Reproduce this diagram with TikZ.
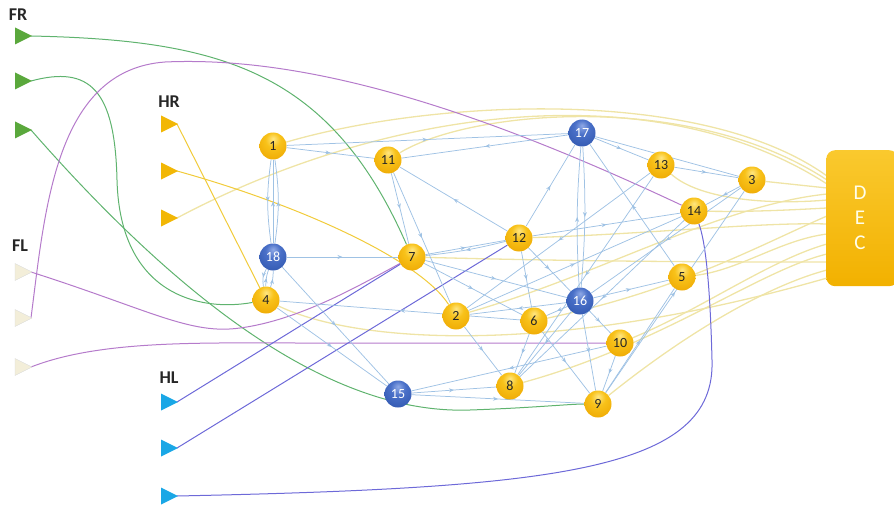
\documentclass[tikz,border=0pt]{standalone}
\usepackage{fontspec}
\setmainfont{Carlito}
\usetikzlibrary{arrows.meta,decorations.markings,shadings}
\pgfdeclarelayer{bg}
\pgfsetlayers{bg,main}
\definecolor{edg}{HTML}{9FC2E4}
\definecolor{grn}{HTML}{5FB36E}
\definecolor{pur}{HTML}{B57BCB}
\definecolor{vio}{HTML}{6D69D8}
\definecolor{pyl}{HTML}{EFE4A6}
\definecolor{hyl}{HTML}{F1CB3A}
\definecolor{trg}{HTML}{5AA83C}
\definecolor{trc}{HTML}{F3EED9}
\definecolor{trh}{HTML}{F2B705}
\definecolor{trl}{HTML}{1AA7E6}
\definecolor{decA}{HTML}{FAC92E}
\definecolor{decB}{HTML}{F2B100}
\definecolor{gA}{HTML}{FFE680}
\definecolor{gB}{HTML}{F8C21A}
\definecolor{gC}{HTML}{EDA600}
\definecolor{gD}{HTML}{C98500}
\definecolor{bA}{HTML}{8FA9E6}
\definecolor{bB}{HTML}{4A70C8}
\definecolor{bC}{HTML}{2F56AE}
\definecolor{bD}{HTML}{1E3C85}
\pgfdeclareradialshading{goldball}{\pgfpoint{0bp}{14bp}}{color(0bp)=(gA); color(14bp)=(gB); color(38bp)=(gC); color(56bp)=(gD); color(70bp)=(gD)}
\pgfdeclareradialshading{blueball}{\pgfpoint{0bp}{14bp}}{color(0bp)=(bA); color(14bp)=(bB); color(38bp)=(bC); color(56bp)=(bD); color(70bp)=(bD)}
\tikzset{
  yn/.style={circle, minimum size=27pt, inner sep=0pt, shading=goldball, text=black!85, font=\fontsize{14}{14}\selectfont},
  bn/.style={circle, minimum size=27pt, inner sep=0pt, shading=blueball, text=white, font=\fontsize{14}{14}\selectfont},
  ed/.style={edg, line width=0.75pt, postaction={decorate}, decoration={markings, mark=at position 0.5 with {\arrow{Stealth[length=5pt,width=4pt]}}}},
  dl/.style={pyl, line width=1.3pt},
  hl/.style={hyl, line width=1pt},
  gl/.style={grn, line width=1pt},
  pl/.style={pur, line width=1pt},
  vl/.style={vio, line width=1pt},
  lab/.style={font=\bfseries\fontsize{18}{18}\selectfont, text=black!85},
  dectxt/.style={text=white!92!yellow, font=\fontsize{21}{21}\selectfont},
}
\begin{document}
\begin{tikzpicture}[x=1pt,y=-1pt]
\useasboundingbox (0,0) rectangle (894,508);
% input triangles
\foreach \n/\y/\c in {fr1/36/trg, fr2/81/trg, fr3/130/trg} {
  \fill[\c] (15,\y-8.5) -- (32,\y) -- (15,\y+8.5) -- cycle;
  \coordinate (\n) at (31,\y);
}
\foreach \n/\y in {fl1/272, fl2/318, fl3/367} {
  \fill[trc, draw=black!15, line width=0.4pt] (15,\y-8.5) -- (32,\y) -- (15,\y+8.5) -- cycle;
  \coordinate (\n) at (31,\y);
}
\foreach \n/\y in {hr1/124, hr2/171, hr3/218} {
  \fill[trh] (161,\y-8.5) -- (178,\y) -- (161,\y+8.5) -- cycle;
  \coordinate (\n) at (177,\y);
}
\foreach \n/\y in {hl1/402, hl2/448, hl3/496} {
  \fill[trl] (161,\y-8.5) -- (178,\y) -- (161,\y+8.5) -- cycle;
  \coordinate (\n) at (177,\y);
}
\node[lab] (tfr) at (18,15) {FR};
\node[lab] (tfl) at (20,246) {FL};
\node[lab] (thr) at (169,102) {HR};
\node[lab] (thl) at (169,378) {HL};
% nodes
\node[yn] (n1) at (273,146) {1};
\node[yn] (n11) at (388,160) {11};
\node[bn] (n17) at (582,133) {17};
\node[yn] (n13) at (661,165) {13};
\node[yn] (n3) at (752,180) {3};
\node[yn] (n14) at (694,211) {14};
\node[yn] (n12) at (519,238) {12};
\node[bn] (n18) at (273,257) {18};
\node[yn] (n7) at (412,257) {7};
\node[yn] (n5) at (682,277) {5};
\node[bn] (n16) at (580,301) {16};
\node[yn] (n4) at (266,300) {4};
\node[yn] (n2) at (456,316) {2};
\node[yn] (n6) at (534,321) {6};
\node[yn] (n10) at (620,343) {10};
\node[bn] (n15) at (398,394) {15};
\node[yn] (n8) at (510,386) {8};
\node[yn] (n9) at (598,404) {9};
\node[rounded corners=9pt, top color=decA, bottom color=decB, minimum width=72pt, minimum height=136pt, inner sep=0pt, anchor=north west] (dec) at (826,150) {};
\node[dectxt] (d1) at (860,193) {D};
\node[dectxt] (d2) at (860,218) {E};
\node[dectxt] (d3) at (860,243) {C};
\coordinate (k1) at (827,176);
\coordinate (k2) at (827,180);
\coordinate (k3) at (827,184);
\coordinate (k4) at (827,188);
\coordinate (k5) at (827,194);
\coordinate (k6) at (827,200);
\coordinate (k7) at (827,208);
\coordinate (k8) at (827,216);
\coordinate (k9) at (827,224);
\coordinate (k10) at (827,234);
\coordinate (k11) at (827,244);
\coordinate (k12) at (827,254);
\coordinate (k13) at (827,262);
\coordinate (k14) at (827,270);
\coordinate (k15) at (827,278);
\begin{pgfonlayer}{bg}
% outputs to DEC
\draw[dl] (n1) .. controls (430,100) and (700,85) .. (k1);
\draw[dl] (n11) .. controls (470,110) and (690,90) .. (k2);
\draw[dl] (hr3) .. controls (380,110) and (650,70) .. (k3);
\draw[dl] (n3) -- (k4);
\draw[dl] (n13) .. controls (700,200) and (770,205) .. (k6);
\draw[dl] (n14) .. controls (750,212) and (790,210) .. (k7);
\draw[dl] (n2) .. controls (600,275) and (720,205) .. (k5);
\draw[dl] (n12) .. controls (650,234) and (760,222) .. (k9);
\draw[dl] (n5) .. controls (740,270) and (780,240) .. (k10);
\draw[dl] (n6) .. controls (680,290) and (760,245) .. (k8);
\draw[dl] (n7) .. controls (600,262) and (740,262) .. (k13);
\draw[dl] (n10) .. controls (700,310) and (770,260) .. (k11);
\draw[dl] (n8) .. controls (660,345) and (760,270) .. (k12);
\draw[dl] (n9) .. controls (690,330) and (770,285) .. (k14);
\draw[dl] (n4) .. controls (360,345) and (560,355) .. (k15);
% HR inputs
\draw[hl] (hr1) -- (n4);
\draw[hl] (hr2) .. controls (300,205) and (420,260) .. (n2);
% FR inputs
\draw[gl] (fr1) .. controls (220,40) and (330,70) .. (n7);
\draw[gl] (fr2) .. controls (90,65) and (115,90) .. (117,180) .. controls (120,295) and (200,312) .. (n4);
\draw[gl] (fr3) .. controls (180,300) and (330,415) .. (470,410) .. controls (530,408) and (570,404) .. (n9);
% FL inputs
\draw[pl] (fl1) .. controls (150,310) and (190,335) .. (240,328) .. controls (300,320) and (360,285) .. (n7);
\draw[pl] (fl2) .. controls (45,210) and (55,70) .. (165,62) .. controls (320,55) and (500,120) .. (n14);
\draw[pl] (fl3) .. controls (100,340) and (200,343) .. (300,343) -- (n10);
% HL inputs
\draw[vl] (hl1) -- (n7);
\draw[vl] (hl2) -- (n12);
\draw[vl] (hl3) .. controls (560,488) and (716,470) .. (712,360) .. controls (710,280) and (705,240) .. (n14);
% internal edges
\draw[ed] (n1) to[bend right=8] (n18);
\draw[ed] (n18) -- (n1);
\draw[ed] (n18) to[bend right=8] (n1);
\draw[ed] (n1) -- (n11);
\draw[ed] (n1) -- (n17);
\draw[ed] (n17) -- (n11);
\draw[ed] (n11) -- (n7);
\draw[ed] (n11) -- (n2);
\draw[ed] (n12) -- (n11);
\draw[ed] (n18) -- (n7);
\draw[ed] (n7) -- (n12);
\draw[ed] (n12) to[bend left=4] (n7);
\draw[ed] (n18) -- (n15);
\draw[ed] (n4) -- (n15);
\draw[ed] (n4) to[bend left=10] (n18);
\draw[ed] (n4) to[bend right=10] (n18);
\draw[ed] (n18) to[bend right=20] (n4);
\draw[ed] (n6) -- (n4);
\draw[ed] (n7) -- (n16);
\draw[ed] (n7) -- (n6);
\draw[ed] (n12) -- (n6);
\draw[ed] (n12) -- (n16);
\draw[ed] (n12) -- (n17);
\draw[ed] (n12) -- (n14);
\draw[ed] (n17) to[bend left=4] (n16);
\draw[ed] (n16) to[bend left=4] (n17);
\draw[ed] (n17) -- (n13);
\draw[ed] (n13) -- (n3);
\draw[ed] (n17) -- (n3);
\draw[ed] (n13) -- (n2);
\draw[ed] (n13) -- (n8);
\draw[ed] (n3) -- (n14);
\draw[ed] (n3) -- (n16);
\draw[ed] (n16) -- (n5);
\draw[ed] (n5) -- (n17);
\draw[ed] (n2) -- (n14);
\draw[ed] (n14) -- (n8);
\draw[ed] (n16) -- (n6);
\draw[ed] (n16) -- (n2);
\draw[ed] (n16) -- (n10);
\draw[ed] (n16) -- (n9);
\draw[ed] (n10) -- (n9);
\draw[ed] (n10) -- (n15);
\draw[ed] (n9) -- (n5);
\draw[ed] (n9) -- (n3);
\draw[ed] (n2) -- (n8);
\draw[ed] (n6) -- (n8);
\draw[ed] (n16) -- (n8);
\draw[ed] (n15) -- (n8);
\draw[ed] (n15) -- (n9);
\draw[ed] (n6) -- (n9);
\end{pgfonlayer}
\end{tikzpicture}
\end{document}
